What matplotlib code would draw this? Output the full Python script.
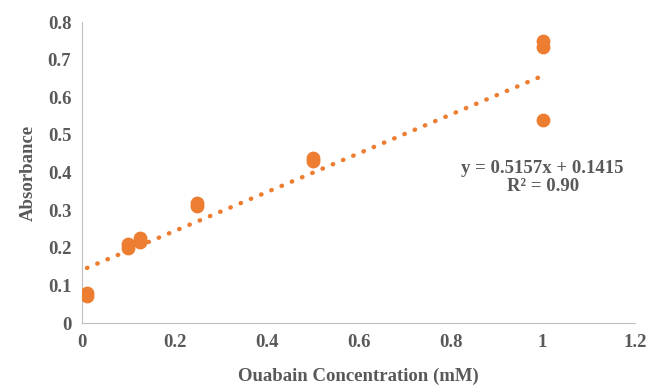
import numpy as np
import matplotlib.pyplot as plt

# ouabain concentration (mM) and absorbance readings
conc = [0.01, 0.01, 0.1, 0.1, 0.125, 0.125, 0.25, 0.25, 0.5, 0.5, 1, 1, 1]
absorbance = [0.073, 0.080, 0.200, 0.210, 0.215, 0.225, 0.310, 0.320, 0.430, 0.440, 0.540, 0.735, 0.750]

# linear trendline
slope = 0.5157
intercept = 0.1415
r2 = 0.90

orange = '#ED7D31'
grey = '#595959'

plt.rcParams['font.family'] = ['Liberation Serif', 'DejaVu Serif']
plt.rcParams['font.weight'] = 'bold'

fig = plt.figure(figsize=(6.49, 3.87), dpi=100)
ax = fig.add_axes([0.127, 0.165, 0.851, 0.778])

ax.scatter(conc, absorbance, s=80, color=orange, zorder=3)

xfit = np.array([min(conc), max(conc)])
ax.plot(xfit, slope * xfit + intercept, color=orange, linestyle=(0, (0.1, 2.4)),
        linewidth=3.2, dash_capstyle='round')

ax.text(1.0, 0.387, f'y = {slope}x + {intercept}\nR² = {r2:.2f}', ha='center', va='center',
        fontsize=13.5, fontweight='bold', color=grey, linespacing=1.05)

ax.set_xlim(0, 1.2)
ax.set_ylim(0, 0.8)
ax.set_xticks(np.arange(0, 1.21, 0.2))
ax.set_xticklabels(['0', '0.2', '0.4', '0.6', '0.8', '1', '1.2'])
ax.set_yticks(np.arange(0, 0.81, 0.1))
ax.set_yticklabels(['0', '0.1', '0.2', '0.3', '0.4', '0.5', '0.6', '0.7', '0.8'])
ax.tick_params(length=0, labelsize=13.5, labelcolor=grey, pad=8)
for lbl in ax.get_xticklabels() + ax.get_yticklabels():
    lbl.set_fontweight('bold')

for side in ['top', 'right']:
    ax.spines[side].set_visible(False)
for side in ['left', 'bottom']:
    ax.spines[side].set_color('#BFBFBF')

ax.set_xlabel('Ouabain Concentration (mM)', fontsize=13.5, fontweight='bold', color=grey, labelpad=12)
ax.set_ylabel('Absorbance', fontsize=13.5, fontweight='bold', color=grey, labelpad=8)

plt.savefig('out.png', dpi=100)
